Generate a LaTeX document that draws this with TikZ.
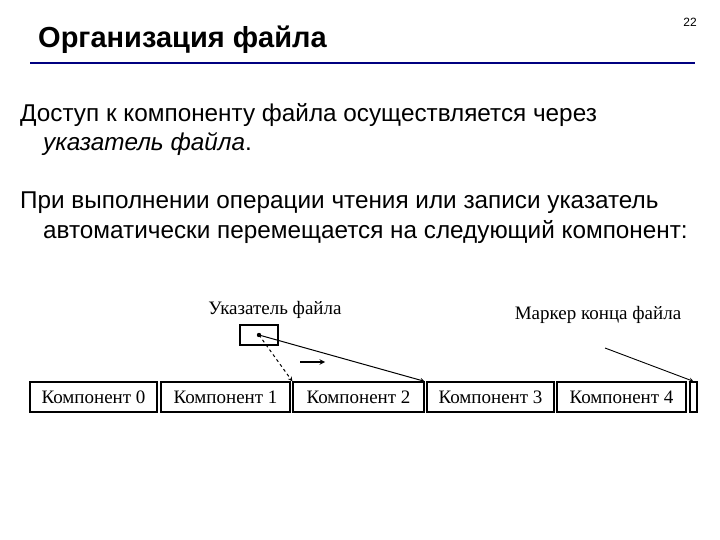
\documentclass[tikz,border=0pt]{standalone}
\usepackage{fontspec}
\setmainfont{Liberation Sans}
\newfontfamily\serifr{Liberation Serif}
\begin{document}
\begin{tikzpicture}[x=1pt,y=-1pt,
 comp/.style={draw,line width=1.3pt,minimum height=30pt,inner sep=0pt,font=\serifr\fontsize{19}{19}\selectfont},
 txt/.style={anchor=west,inner sep=0pt,font=\fontsize{24.3}{28}\selectfont}]
\useasboundingbox (0,0) rectangle (720,540);
\node[anchor=west,inner sep=0pt,font=\bfseries\fontsize{29}{32}\selectfont] (title) at (38,40) {Организация файла};
\node[font=\fontsize{12}{14}\selectfont] (num) at (690,22) {22};
\draw[blue!50!black,line width=2pt] (30,63) -- (695,63);
\node[txt] (l1) at (20,115) {Доступ к компоненту файла осуществляется через};
\node[txt] (l2) at (43,144) {\itshape указатель файла\upshape.};
\node[txt] (l3) at (20,203) {При выполнении операции чтения или записи указатель};
\node[txt] (l4) at (43,232) {автоматически перемещается на следующий компонент:};
\node[comp,minimum width=127pt] (c0) at (93.5,397) {Компонент 0};
\node[comp,minimum width=129pt] (c1) at (225.5,397) {Компонент 1};
\node[comp,minimum width=131pt] (c2) at (358.5,397) {Компонент 2};
\node[comp,minimum width=127pt] (c3) at (490.5,397) {Компонент 3};
\node[comp,minimum width=129pt] (c4) at (621.5,397) {Компонент 4};
\node[comp,minimum width=7pt] (eof) at (693.5,397) {};
\node[draw,line width=1.3pt,minimum width=38pt,minimum height=20pt,inner sep=0pt] (ptr) at (259,335) {};
\fill (ptr.center) circle (2.2pt);
\node[font=\serifr\fontsize{19}{19}\selectfont] (plab) at (275,310) {Указатель файла};
\node[font=\serifr\fontsize{19}{19}\selectfont] (mlab) at (598,315) {Маркер конца файла};
\coordinate (m0) at (605,348);
\coordinate (a0) at (300,362);
\coordinate (a1) at (325,362);
\draw[dashed,->,>=stealth,line width=1pt] (ptr.center) -- (c2.north west);
\draw[->,>=stealth,line width=1pt] (ptr.center) -- (c2.north east);
\draw[->,>=stealth,line width=1.4pt] (a0) -- (a1);
\draw[->,>=stealth,line width=0.9pt] (m0) -- (eof.north);
\end{tikzpicture}
\end{document}
